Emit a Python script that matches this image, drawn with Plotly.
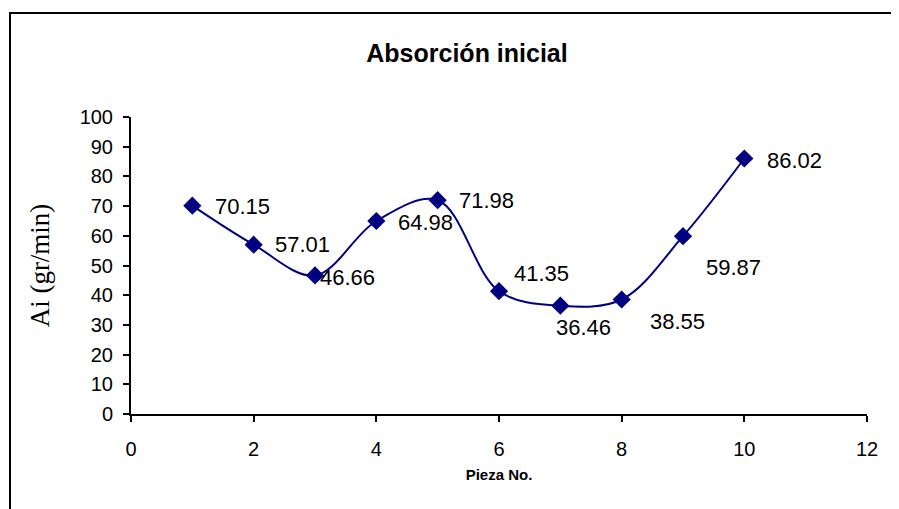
import plotly.graph_objects as go

pieza = [1, 2, 3, 4, 5, 6, 7, 8, 9, 10]
ai = [70.15, 57.01, 46.66, 64.98, 71.98, 41.35, 36.46, 38.55, 59.87, 86.02]
labels = ["70.15", "57.01", "46.66", "64.98", "71.98", "41.35", "36.46", "38.55", "59.87", "86.02"]
x_ticks = [0, 2, 4, 6, 8, 10, 12]
y_ticks = [0, 10, 20, 30, 40, 50, 60, 70, 80, 90, 100]

# label offsets (pixels) relative to each point
label_dx = [50, 49, 32, 49, 49, 42, 23, 56, 50, 50]
label_dy = [-1, 0, -2, -1, 0, 18, -22, -22, -31, -2]

FONT = "Arial, Liberation Sans, sans-serif"

fig = go.Figure()
fig.add_trace(go.Scatter(
    x=pieza, y=ai, mode="lines+markers",
    line=dict(color="#000080", width=2, shape="spline", smoothing=1),
    marker=dict(symbol="diamond", size=14, color="#000080"),
    hoverinfo="x+y", showlegend=False,
))

for x, y, t, dx, dy in zip(pieza, ai, labels, label_dx, label_dy):
    fig.add_annotation(x=x, y=y, text=t, showarrow=False, xshift=dx, yshift=dy,
                       font=dict(family=FONT, size=22, color="black"))

L, T, R, B = 123, 109, 32, 95
W, H = 891, 501
pw, ph = W - L - R, H - T - B

fig.add_shape(type="rect", xref="paper", yref="paper",
              x0=(2 - L) / pw, x1=(897 - L) / pw,
              y0=(H - B - 520) / ph, y1=(H - B - 5) / ph,
              line=dict(color="black", width=2), layer="below")

fig.update_layout(
    width=W, height=H,
    margin=dict(l=L, r=R, t=T, b=B),
    paper_bgcolor="white", plot_bgcolor="white",
    title=dict(text="<b>Absorción inicial</b>", x=459 / W, xanchor="center",
               y=1 - 45 / H, yanchor="middle",
               font=dict(family=FONT, size=25, color="black")),
    xaxis=dict(range=[0, 12], tickvals=x_ticks, ticks="outside", ticklen=6,
               tickcolor="black", tickwidth=2, showline=True, linecolor="black", linewidth=2,
               showgrid=False, zeroline=False, ticklabelstandoff=10,
               tickfont=dict(family=FONT, size=20, color="black"),
               title=dict(text="<b>Pieza No.</b>", standoff=10,
                          font=dict(family=FONT, size=15, color="black"))),
    yaxis=dict(range=[0, 100], tickvals=y_ticks, ticks="outside", ticklen=6,
               tickcolor="black", tickwidth=2, showline=True, linecolor="black", linewidth=2,
               showgrid=False, zeroline=False, ticklabelstandoff=6,
               tickfont=dict(family=FONT, size=20, color="black"),
               title=dict(text="Ai (gr/min)", standoff=22,
                          font=dict(family="Times New Roman, Liberation Serif, serif", size=27, color="black"))),
)

fig.write_html("out.html")
